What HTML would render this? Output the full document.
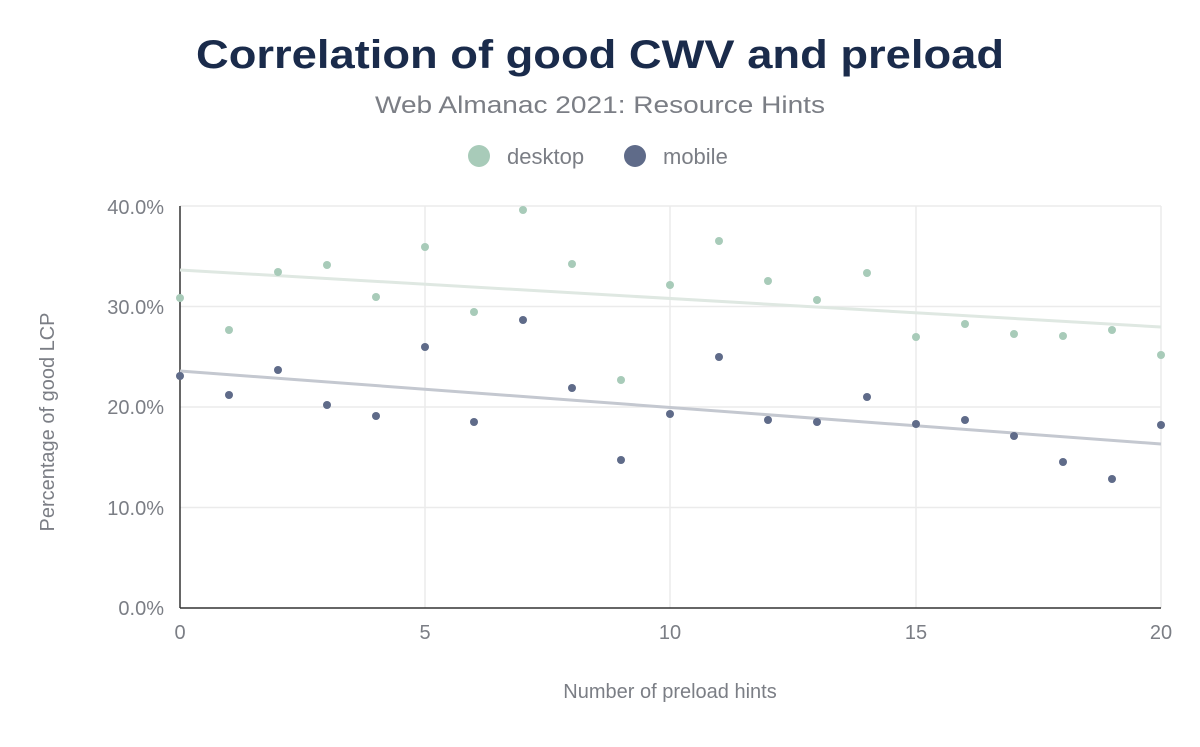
<!DOCTYPE html>
<html><head><style>
body{margin:0;background:#fff;}
svg text{font-family:"Liberation Sans",Arial,sans-serif;}
</style></head><body>
<svg width="1200" height="742" viewBox="0 0 1200 742" xmlns="http://www.w3.org/2000/svg">
<rect width="1200" height="742" fill="#fff"/>
<text x="600" y="68" text-anchor="middle" font-size="40" font-weight="bold" fill="#1a2b4b" textLength="808" lengthAdjust="spacingAndGlyphs">Correlation of good CWV and preload</text>
<text x="600" y="113" text-anchor="middle" font-size="24" fill="#7b7e85" textLength="450" lengthAdjust="spacingAndGlyphs">Web Almanac 2021: Resource Hints</text>
<circle cx="479" cy="156" r="11" fill="#a8cbb9"/>
<text x="507" y="164" font-size="22" fill="#7b7e85">desktop</text>
<circle cx="635" cy="156" r="11" fill="#5f6b89"/>
<text x="663" y="164" font-size="22" fill="#7b7e85">mobile</text>
<g stroke="#ebebeb" stroke-width="1.5">
<line x1="180" y1="206" x2="1161" y2="206"/><line x1="180" y1="306.5" x2="1161" y2="306.5"/><line x1="180" y1="407" x2="1161" y2="407"/><line x1="180" y1="507.5" x2="1161" y2="507.5"/>
<line x1="425" y1="206" x2="425" y2="608"/><line x1="670" y1="206" x2="670" y2="608"/><line x1="916" y1="206" x2="916" y2="608"/><line x1="1161" y1="206" x2="1161" y2="608"/>
</g>
<line x1="180" y1="206" x2="180" y2="608" stroke="#333" stroke-width="1.5"/>
<line x1="180" y1="608" x2="1161" y2="608" stroke="#333" stroke-width="1.5"/>
<g font-size="20" fill="#7b7e85" text-anchor="end">
<text x="164" y="214">40.0%</text><text x="164" y="314">30.0%</text><text x="164" y="414">20.0%</text><text x="164" y="515">10.0%</text><text x="164" y="615">0.0%</text>
</g>
<g font-size="20" fill="#7b7e85" text-anchor="middle">
<text x="180" y="639">0</text><text x="425" y="639">5</text><text x="670" y="639">10</text><text x="916" y="639">15</text><text x="1161" y="639">20</text>
<text x="670" y="698">Number of preload hints</text>
</g>
<text transform="translate(54,422) rotate(-90)" font-size="20" fill="#7b7e85" text-anchor="middle">Percentage of good LCP</text>
<line x1="180" y1="270" x2="1161" y2="327" stroke="#dfe8e2" stroke-width="3"/>
<line x1="180" y1="371" x2="1161" y2="444" stroke="#c4c8d0" stroke-width="3"/>
<g fill="#a8cbb9">
<circle cx="180" cy="298" r="4"/><circle cx="229" cy="330" r="4"/><circle cx="278" cy="272" r="4"/><circle cx="327" cy="265" r="4"/><circle cx="376" cy="297" r="4"/><circle cx="425" cy="247" r="4"/><circle cx="474" cy="312" r="4"/><circle cx="523" cy="210" r="4"/><circle cx="572" cy="264" r="4"/><circle cx="621" cy="380" r="4"/><circle cx="670" cy="285" r="4"/><circle cx="719" cy="241" r="4"/><circle cx="768" cy="281" r="4"/><circle cx="817" cy="300" r="4"/><circle cx="867" cy="273" r="4"/><circle cx="916" cy="337" r="4"/><circle cx="965" cy="324" r="4"/><circle cx="1014" cy="334" r="4"/><circle cx="1063" cy="336" r="4"/><circle cx="1112" cy="330" r="4"/><circle cx="1161" cy="355" r="4"/>
</g>
<g fill="#5f6b89">
<circle cx="180" cy="376" r="4"/><circle cx="229" cy="395" r="4"/><circle cx="278" cy="370" r="4"/><circle cx="327" cy="405" r="4"/><circle cx="376" cy="416" r="4"/><circle cx="425" cy="347" r="4"/><circle cx="474" cy="422" r="4"/><circle cx="523" cy="320" r="4"/><circle cx="572" cy="388" r="4"/><circle cx="621" cy="460" r="4"/><circle cx="670" cy="414" r="4"/><circle cx="719" cy="357" r="4"/><circle cx="768" cy="420" r="4"/><circle cx="817" cy="422" r="4"/><circle cx="867" cy="397" r="4"/><circle cx="916" cy="424" r="4"/><circle cx="965" cy="420" r="4"/><circle cx="1014" cy="436" r="4"/><circle cx="1063" cy="462" r="4"/><circle cx="1112" cy="479" r="4"/><circle cx="1161" cy="425" r="4"/>
</g>
</svg>
</body></html>
